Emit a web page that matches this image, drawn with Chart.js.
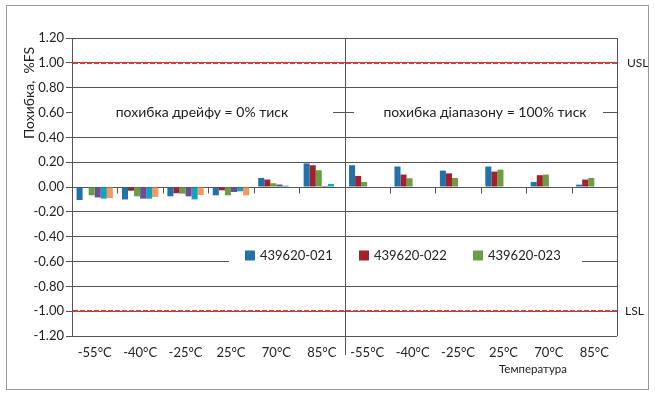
<!DOCTYPE html>
<html>
<head>
<meta charset="utf-8">
<script src="https://cdn.jsdelivr.net/npm/chart.js@4.4.1/dist/chart.umd.min.js"></script>
<style>
  html, body { margin: 0; padding: 0; background: #fff; }
  #wrap { width: 655px; height: 395px; position: relative; }
</style>
</head>
<body>
<div id="wrap"><canvas id="c" width="655" height="395"></canvas></div>
<script>
// Temperature points: first six = drift error (0% pressure), last six = span error (100% pressure)
const categories = ['-55°C', '-40°C', '-25°C', '25°C', '70°C', '85°C',
                    '-55°C', '-40°C', '-25°C', '25°C', '70°C', '85°C'];

// Error, %FS
const s021 = [-0.105, -0.100, -0.075, -0.067, 0.073, 0.190, 0.175, 0.165, 0.132, 0.165, 0.040, 0.019];
const s022 = [-0.003, -0.030, -0.050, -0.027, 0.060, 0.175, 0.089, 0.100, 0.110, 0.124, 0.095, 0.060];
const s023 = [-0.067, -0.075, -0.054, -0.067, 0.030, 0.135, 0.040, 0.070, 0.073, 0.140, 0.100, 0.073];
const s4   = [-0.084, -0.094, -0.075, -0.040, 0.020, 0.008, null, null, null, null, null, null];
const s5   = [-0.094, -0.094, -0.100, -0.035, 0.011, 0.025, null, null, null, null, null, null];
const s6   = [-0.089, -0.080, -0.065, -0.067, -0.005, 0.000, null, null, null, null, null, null];

const seriesNames = ['439620-021', '439620-022', '439620-023', 'серія 4', 'серія 5', 'серія 6'];
const seriesColors = ['#2370ab', '#a3212b', '#6b9e44', '#6c4b9a', '#14a2bd', '#f7985a'];
const legendCount = 3;

const yTicks = { min: -1.2, max: 1.2, step: 0.2 };
const USL = 1.0;
const LSL = -1.0;

const yTitle = 'Похибка,  %FS';
const xTitle = 'Температура';
const driftLabel = 'похибка дрейфу = 0% тиск';
const spanLabel = 'похибка діапазону = 100% тиск';
const labelLevel = 0.6;
const legendLevel = -0.6;

const FONT = 'Lato, "DejaVu Sans", sans-serif';
const GRID = '#555555';
const TEXT = '#222222';

const seriesData = [s021, s022, s023, s4, s5, s6];

const overlay = {
  id: 'overlay',
  beforeDatasetsDraw(chart) {
    const { ctx, chartArea: a, scales: { x, y } } = chart;
    ctx.save();
    // white panels behind in-plot captions and legend
    ctx.fillStyle = '#ffffff';
    const yl = y.getPixelForValue(labelLevel);
    ctx.fillRect(a.left + 1, yl - 10, 333 - a.left - 1, 20);
    ctx.fillRect(354, yl - 10, 603 - 354, 20);
    const yg = y.getPixelForValue(legendLevel);
    ctx.fillRect(229, yg - 10, 582 - 229, 20);

    // separator between the two halves, right border, category ticks on the zero line
    ctx.strokeStyle = GRID;
    ctx.lineWidth = 1;
    const y0 = Math.round(y.getPixelForValue(0)) + 0.5;
    for (let i = 0; i < categories.length - 1; i++) {
      const bx = Math.round((x.getPixelForValue(i) + x.getPixelForValue(i + 1)) / 2) + 0.5;
      ctx.beginPath();
      if (i === 5) {
        ctx.moveTo(bx, a.top);
        ctx.lineTo(bx, a.bottom + 19);
      } else {
        ctx.moveTo(bx, y0);
        ctx.lineTo(bx, y0 + 6);
      }
      ctx.stroke();
    }
    const rx = Math.round(a.right) + 0.5;
    ctx.beginPath();
    ctx.moveTo(rx, a.top);
    ctx.lineTo(rx, a.bottom);
    ctx.stroke();
    ctx.restore();
  },
  afterDatasetsDraw(chart) {
    const { ctx, chartArea: a, scales: { y } } = chart;
    ctx.save();
    ctx.strokeStyle = '#e8362f';
    ctx.lineWidth = 2;
    ctx.setLineDash([5, 2]);
    [USL, LSL].forEach(v => {
      const py = Math.round(y.getPixelForValue(v));
      ctx.beginPath();
      ctx.moveTo(a.left + 1, py);
      ctx.lineTo(a.right, py);
      ctx.stroke();
    });
    ctx.restore();
  },
  afterDraw(chart) {
    const { ctx, chartArea: a, scales: { y } } = chart;
    ctx.save();
    ctx.fillStyle = TEXT;
    ctx.textBaseline = 'middle';

    // captions
    ctx.font = '14px ' + FONT;
    ctx.textAlign = 'center';
    const yl = y.getPixelForValue(labelLevel);
    ctx.fillText(driftLabel, 202, yl);
    ctx.fillText(spanLabel, 485, yl);

    // legend
    const yg = y.getPixelForValue(legendLevel);
    const lx = [245, 359, 473];
    ctx.font = '13px ' + FONT;
    ctx.textAlign = 'left';
    for (let i = 0; i < legendCount; i++) {
      ctx.fillStyle = seriesColors[i];
      ctx.fillRect(lx[i], yg - 11, 10, 10);
      ctx.fillStyle = TEXT;
      ctx.fillText(seriesNames[i], lx[i] + 15, yg - 6);
    }

    // limit labels
    ctx.font = '12px ' + FONT;
    ctx.fillText('USL', 627, y.getPixelForValue(USL));
    ctx.fillText('LSL', 625, y.getPixelForValue(LSL));

    // axis titles
    ctx.font = '11.5px ' + FONT;
    ctx.textAlign = 'center';
    ctx.fillText(xTitle, 533, 369);
    ctx.save();
    ctx.translate(29, 93);
    ctx.rotate(-Math.PI / 2);
    ctx.font = '14px ' + FONT;
    ctx.fillText(yTitle, 0, 0);
    ctx.restore();

    // outer frame
    ctx.strokeStyle = '#9a9a9a';
    ctx.lineWidth = 1;
    ctx.strokeRect(6.5, 5.5, 642, 384);
    ctx.restore();
  }
};

new Chart(document.getElementById('c'), {
  type: 'bar',
  data: {
    labels: categories,
    datasets: seriesData.map((d, i) => ({
      label: seriesNames[i],
      data: d,
      backgroundColor: seriesColors[i],
      borderWidth: 0,
      barPercentage: 1.0,
      categoryPercentage: 0.8
    }))
  },
  options: {
    responsive: false,
    animation: false,
    layout: { padding: { left: 0, right: 38, top: 38, bottom: 0 } },
    plugins: { legend: { display: false }, tooltip: { enabled: false } },
    scales: {
      x: {
        grid: { display: false, drawTicks: false },
        border: { display: false },
        ticks: { color: TEXT, font: { family: FONT, size: 13 }, padding: 9, maxRotation: 0, autoSkip: false },
        afterFit(s) { s.height = 59; }
      },
      y: {
        min: yTicks.min,
        max: yTicks.max,
        grid: { color: GRID, lineWidth: 1, tickLength: 6, drawTicks: true },
        border: { display: true, color: GRID },
        ticks: {
          stepSize: yTicks.step,
          color: TEXT,
          font: { family: FONT, size: 13 },
          padding: 2,
          callback: v => Number(v).toFixed(2)
        },
        afterFit(s) { s.width = 72; }
      }
    }
  },
  plugins: [overlay]
});
</script>
</body>
</html>
